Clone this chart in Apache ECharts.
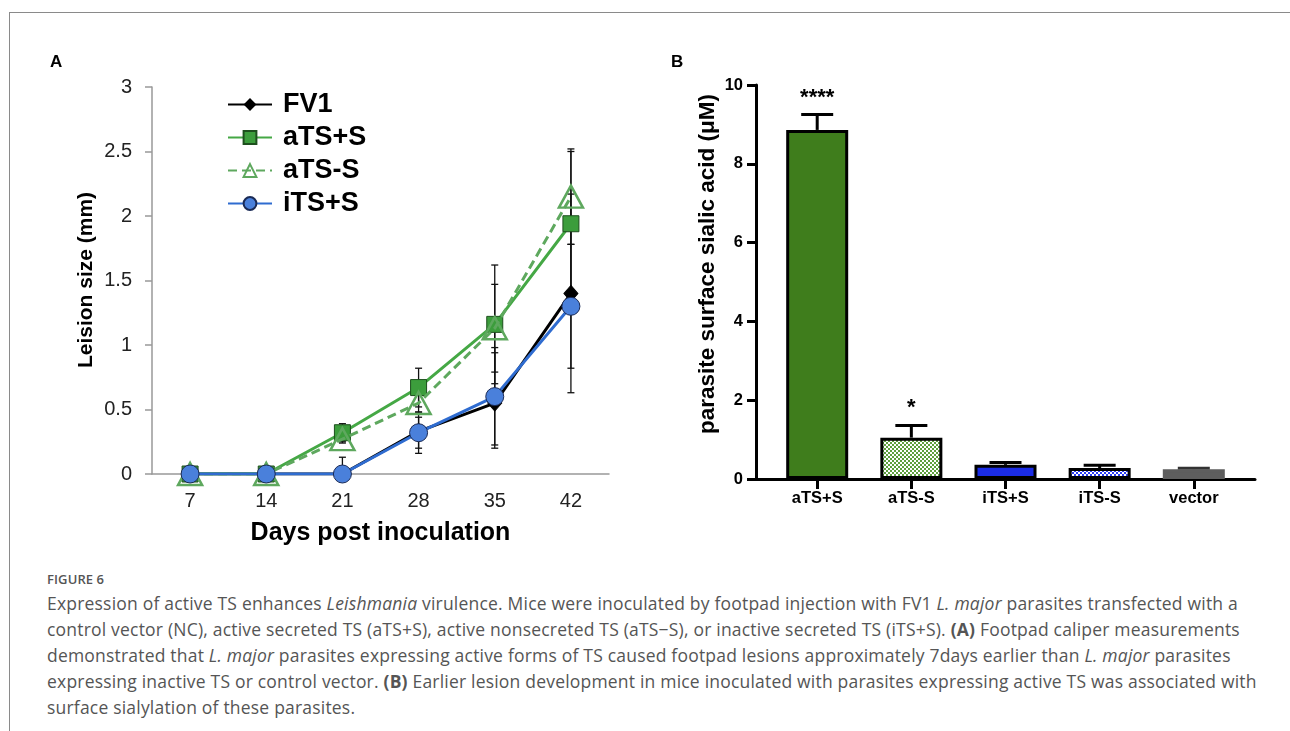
<!DOCTYPE html>
<html><head><meta charset="utf-8">
<script src="https://cdn.jsdelivr.net/npm/echarts@6/dist/echarts.min.js"></script>
<style>
html,body{margin:0;padding:0;background:#fff;width:1290px;height:731px;overflow:hidden;}
#frame{position:absolute;left:9px;top:12px;width:1300px;height:740px;border-top:1.5px solid #8a8a8a;border-left:1.5px solid #8a8a8a;}
#chart{position:absolute;left:0;top:0;width:1290px;height:560px;}
#cap{position:absolute;left:47px;top:568px;font-family:'Open Sans',sans-serif;color:#555;}
.fig{font-size:13px;font-weight:600;line-height:22px;letter-spacing:0.1px;}
.txt{font-size:17.5px;line-height:26px;white-space:nowrap;letter-spacing:0.2px;}
</style></head>
<body>
<div id="frame"></div>
<div id="chart"></div>
<div id="cap">
<div class="fig">FIGURE 6</div>
<div class="txt">Expression of active TS enhances <i>Leishmania</i> virulence. Mice were inoculated by footpad injection with FV1 <i>L. major</i> parasites transfected with a<br>
control vector (NC), active secreted TS (aTS+S), active nonsecreted TS (aTS−S), or inactive secreted TS (iTS+S). <b>(A)</b> Footpad caliper measurements<br>
demonstrated that <i>L. major</i> parasites expressing active forms of TS caused footpad lesions approximately 7days earlier than <i>L. major</i> parasites<br>
expressing inactive TS or control vector. <b>(B)</b> Earlier lesion development in mice inoculated with parasites expressing active TS was associated with<br>
surface sialylation of these parasites.</div>
</div>
<script>
// ---------- Panel A data ----------
const days = ['7','14','21','28','35','42'];
const yTicksA = [0, 0.5, 1, 1.5, 2, 2.5, 3];
const fv1      = [0, 0, 0,    0.33, 0.55, 1.40];
const atsPlus  = [0, 0, 0.32, 0.67, 1.16, 1.94];
const atsMinus = [0, 0, 0.27, 0.55, 1.13, 2.15];
const itsPlus  = [0, 0, 0,    0.32, 0.60, 1.30];
const fv1Lo      = [null, null, null, 0.16, 0.20, 0.63];
const fv1Hi      = [null, null, null, 0.48, 0.94, 2.17];
const atsPlusLo  = [null, null, 0.25, 0.52, 0.70, 1.38];
const atsPlusHi  = [null, null, 0.39, 0.82, 1.62, 2.50];
const atsMinusLo = [null, null, 0.24, 0.48, 0.79, 1.78];
const atsMinusHi = [null, null, 0.30, 0.62, 1.47, 2.52];
const itsPlusLo  = [null, null, 0,    0.20, 0.225, 0.82];
const itsPlusHi  = [null, null, 0.13, 0.44, 0.98, 1.78];

// ---------- Panel B data ----------
const groups = ['aTS+S', 'aTS-S', 'iTS+S', 'iTS-S', 'vector'];
const sialic = [8.86, 1.05, 0.36, 0.28, 0.25];
const sialicErr = [9.25, 1.36, 0.42, 0.35, 0.27];
const sigLabels = ['****', '*', '', '', ''];
const yTicksB = [0, 2, 4, 6, 8, 10];

function checker(c1, c2, s) {
  const cv = document.createElement('canvas');
  cv.width = s * 2; cv.height = s * 2;
  const g = cv.getContext('2d');
  g.fillStyle = c2; g.fillRect(0, 0, s * 2, s * 2);
  g.fillStyle = c1; g.fillRect(0, 0, s, s); g.fillRect(s, s, s, s);
  return { image: cv, repeat: 'repeat' };
}
const barFills = ['#3f7d1c', checker('#5e9f3e', '#ffffff', 2), '#1b2ce6', checker('#2a3cf0', '#ffffff', 2), '#5e5e5e'];
const barBorders = ['#000', '#000', '#000', '#000', '#5e5e5e'];

const errDataA = [];
[[fv1Lo, fv1Hi], [atsPlusLo, atsPlusHi], [atsMinusLo, atsMinusHi], [itsPlusLo, itsPlusHi]].forEach(([lo, hi]) => {
  lo.forEach((v, i) => { if (v !== null) errDataA.push([i, v, hi[i]]); });
});

const chart = echarts.init(document.getElementById('chart'));
const FONT = 'Liberation Sans, Arial, sans-serif';

function renderErrA(params, api) {
  const x = api.value(0);
  const p1 = api.coord([x, api.value(1)]);
  const p2 = api.coord([x, api.value(2)]);
  const w = 3.5;
  const ch = [
    { type: 'line', shape: { x1: p1[0], y1: p1[1], x2: p2[0], y2: p2[1] }, style: { stroke: '#111', lineWidth: 1.3 } },
    { type: 'line', shape: { x1: p2[0] - w, y1: p2[1], x2: p2[0] + w, y2: p2[1] }, style: { stroke: '#111', lineWidth: 1.3 } }
  ];
  if (api.value(1) > 0) ch.push({ type: 'line', shape: { x1: p1[0] - w, y1: p1[1], x2: p1[0] + w, y2: p1[1] }, style: { stroke: '#111', lineWidth: 1.3 } });
  return { type: 'group', children: ch };
}

function renderErrB(params, api) {
  const i = params.dataIndex;
  const x = api.value(0);
  const p1 = api.coord([x, api.value(1)]);
  const p2 = api.coord([x, api.value(2)]);
  const col = i === 4 ? '#333' : '#000';
  const w = 16;
  return { type: 'group', children: [
    { type: 'line', shape: { x1: p1[0], y1: p1[1], x2: p2[0], y2: p2[1] }, style: { stroke: col, lineWidth: 3 } },
    { type: 'line', shape: { x1: p2[0] - w, y1: p2[1], x2: p2[0] + w, y2: p2[1] }, style: { stroke: col, lineWidth: 3 } }
  ] };
}

function renderSigB(params, api) {
  const i = params.dataIndex;
  const p = api.coord([api.value(0), api.value(1)]);
  return { type: 'text', x: p[0], y: p[1] - 6, style: { text: sigLabels[i], align: 'center', verticalAlign: 'bottom', font: 'bold 22px ' + FONT, fill: '#000' } };
}

chart.setOption({
  animation: false,
  backgroundColor: 'transparent',
  grid: [
    { left: 152, top: 87, width: 457, height: 387 },
    { left: 756, top: 85, width: 499, height: 394 }
  ],
  legend: {
    left: 222, top: 86, orient: 'vertical', itemWidth: 44, itemHeight: 16, itemGap: 6,
    data: ['FV1', 'aTS+S', 'aTS-S', 'iTS+S'],
    textStyle: { fontFamily: FONT, fontWeight: 'bold', fontSize: 27, lineHeight: 26, color: '#000', padding: [0, 0, 0, 6] }
  },
  graphic: [
    { type: 'text', left: 50, top: 54, style: { text: 'A', font: 'bold 17px ' + FONT, fill: '#000' } },
    { type: 'text', left: 671, top: 54, style: { text: 'B', font: 'bold 17px ' + FONT, fill: '#000' } },
    { type: 'text', x: 86, y: 280, rotation: Math.PI / 2, style: { text: 'Leision size (mm)', font: 'bold 21px ' + FONT, fill: '#000', align: 'center', verticalAlign: 'middle' } },
    { type: 'text', x: 708, y: 264, rotation: Math.PI / 2, style: { text: 'parasite surface sialic acid (μM)', font: 'bold 22.5px ' + FONT, fill: '#000', align: 'center', verticalAlign: 'middle' } }
  ],
  xAxis: [
    {
      gridIndex: 0, type: 'category', data: days, boundaryGap: true,
      axisLine: { onZero: false, lineStyle: { color: '#999', width: 1.5 } },
      axisTick: { length: 7, lineStyle: { color: '#999', width: 1.5 } },
      axisLabel: { fontFamily: FONT, fontSize: 20, color: '#222', margin: 17 },
      name: 'Days post inoculation', nameLocation: 'middle', nameGap: 59,
      nameTextStyle: { fontFamily: FONT, fontWeight: 'bold', fontSize: 25, color: '#000', verticalAlign: 'middle' }
    },
    {
      gridIndex: 1, type: 'value', min: -0.65, max: 4.65,
      splitLine: { show: false },
      axisLine: { onZero: false, lineStyle: { color: '#000', width: 3 } },
      axisTick: { customValues: [0, 1, 2, 3, 4], length: 10, lineStyle: { color: '#000', width: 3 } },
      axisLabel: { customValues: [0, 1, 2, 3, 4], formatter: v => groups[Math.round(v)], fontFamily: FONT, fontWeight: 'bold', fontSize: 16.5, color: '#000', margin: 11 }
    }
  ],
  yAxis: [
    {
      gridIndex: 0, type: 'value', min: yTicksA[0], max: yTicksA[yTicksA.length - 1], interval: 0.5,
      splitLine: { show: false },
      axisLine: { show: true, onZero: false, lineStyle: { color: '#999', width: 1.5 } },
      axisTick: { show: true, length: 7, lineStyle: { color: '#999', width: 1.5 } },
      axisLabel: { fontFamily: FONT, fontSize: 20, color: '#222', margin: 20 }
    },
    {
      gridIndex: 1, type: 'value', min: yTicksB[0], max: yTicksB[yTicksB.length - 1], interval: 2,
      splitLine: { show: false },
      axisLine: { show: true, onZero: false, lineStyle: { color: '#000', width: 3 } },
      axisTick: { show: true, length: 9, lineStyle: { color: '#000', width: 3 } },
      axisLabel: { fontFamily: FONT, fontWeight: 'bold', fontSize: 16.5, color: '#000', margin: 13 }
    }
  ],
  series: [
    {
      type: 'custom', xAxisIndex: 0, yAxisIndex: 0, renderItem: renderErrA, data: errDataA, z: 1, silent: true,
      encode: { x: 0, y: [1, 2] }
    },
    {
      name: 'FV1', type: 'line', xAxisIndex: 0, yAxisIndex: 0, data: fv1, z: 2,
      symbol: 'diamond', symbolSize: [14, 16], lineStyle: { color: '#000', width: 3 },
      itemStyle: { color: '#000', borderColor: '#000' }
    },
    {
      name: 'aTS+S', type: 'line', xAxisIndex: 0, yAxisIndex: 0, data: atsPlus, z: 3,
      symbol: 'rect', symbolSize: 16, lineStyle: { color: '#45a845', width: 3 },
      itemStyle: { color: '#3c9d3c', borderColor: '#1d4f1d', borderWidth: 1 }
    },
    {
      name: 'aTS-S', type: 'line', xAxisIndex: 0, yAxisIndex: 0, data: atsMinus, z: 4,
      symbol: 'triangle', symbolSize: [24, 22], lineStyle: { color: '#5ea85e', width: 3, type: [9, 5] },
      itemStyle: { color: 'rgba(255,255,255,0)', borderColor: '#5ea85e', borderWidth: 2.5 }
    },
    {
      name: 'iTS+S', type: 'line', xAxisIndex: 0, yAxisIndex: 0, data: itsPlus, z: 5,
      symbol: 'circle', symbolSize: 18, lineStyle: { color: '#2f6cd0', width: 3 },
      itemStyle: { color: '#4a80db', borderColor: '#1a2a55', borderWidth: 1 }
    },
    {
      type: 'bar', xAxisIndex: 1, yAxisIndex: 1, barWidth: 62, z: 2,
      data: sialic.map((v, i) => ({ value: [i, v], itemStyle: { color: barFills[i], borderColor: barBorders[i], borderWidth: 3 } }))
    },
    {
      type: 'custom', xAxisIndex: 1, yAxisIndex: 1, renderItem: renderErrB, z: 1, silent: true,
      encode: { x: 0, y: [1, 2] },
      data: sialic.map((v, i) => [i, v, sialicErr[i]])
    },
    {
      type: 'custom', xAxisIndex: 1, yAxisIndex: 1, renderItem: renderSigB, z: 3, silent: true, clip: false,
      encode: { x: 0, y: 1 },
      data: sialicErr.map((v, i) => [i, v])
    }
  ]
});
</script>
</body></html>
